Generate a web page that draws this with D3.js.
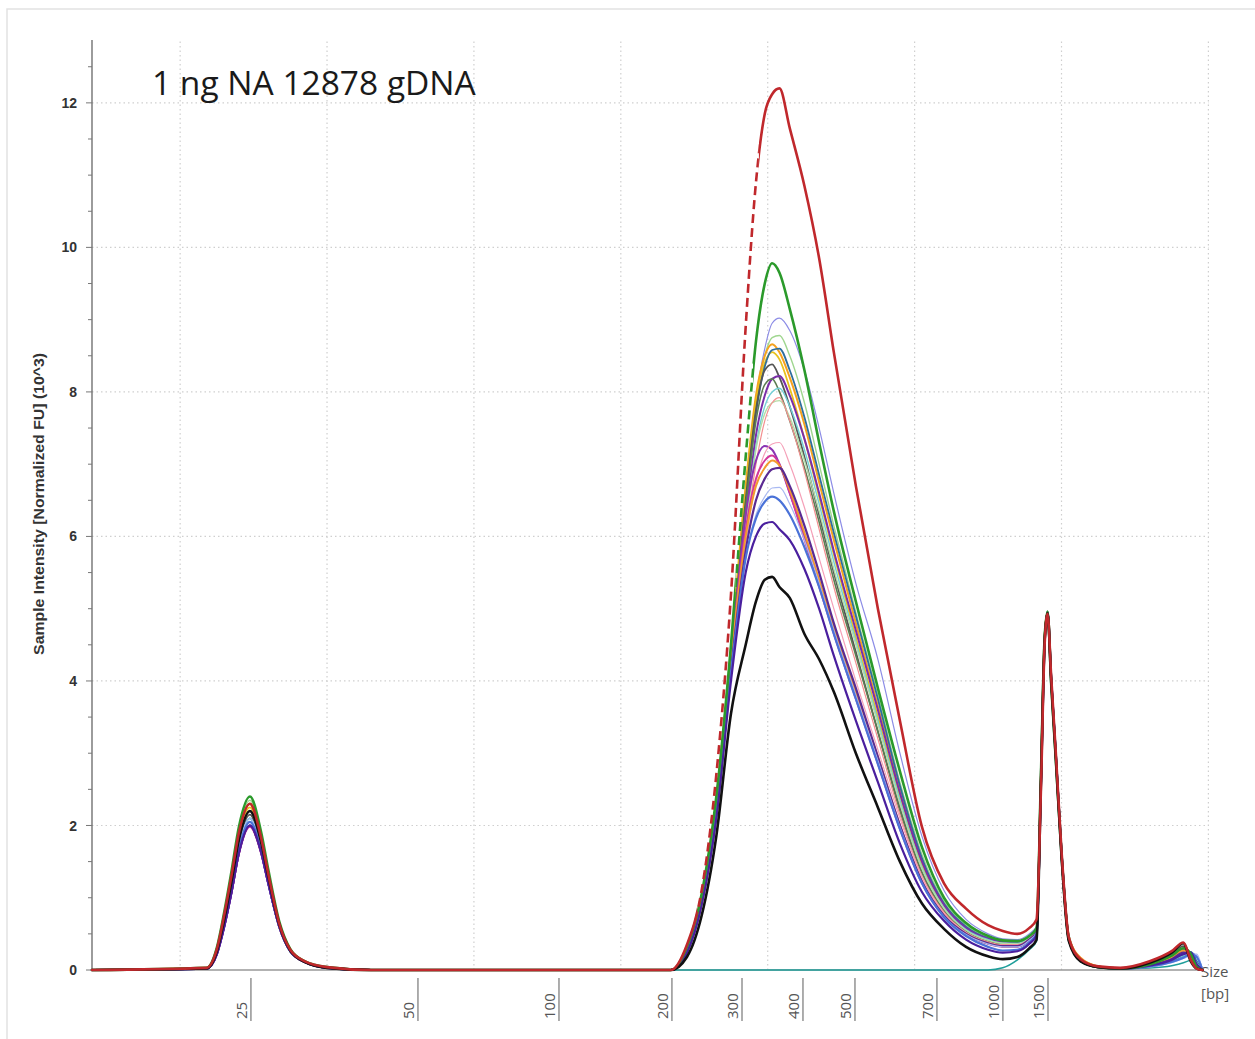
<!DOCTYPE html>
<html>
<head>
<meta charset="utf-8">
<script src="https://cdn.jsdelivr.net/npm/d3@7"></script>
<style>
  body { margin: 0; background: #fff; }
  svg { display: block; font-family: Arial, "Liberation Sans", sans-serif; }
</style>
</head>
<body>
<svg id="chart" width="1255" height="1039"></svg>
<script>
/* Electropherogram overlay: 1 ng NA 12878 gDNA
   x = migration position (run units), labelled with ladder sizes in bp
   y = sample intensity, normalized FU (x10^3) */

const title = "1 ng NA 12878 gDNA";

// shared sample positions along the run
const runTime = [4.0, 11.8, 12.5, 13.0, 13.5, 14.0, 14.75, 15.5, 16.0, 16.75, 17.5, 18.5, 20.0, 23.0,
  43.4, 44.5, 45.5, 46.5, 47.5, 48.5, 49.2, 49.8, 50.3, 50.8, 51.5, 52.5, 53.5, 54.5, 56.0, 57.5,
  59.0, 60.5, 62.0, 63.5, 65.0, 66.0, 67.0, 67.8, 68.3,
  68.6, 68.85, 69.05, 69.3, 69.6, 70.0, 70.5, 71.3, 72.5, 74.0, 76.0, 77.5, 78.3, 78.8, 79.2, 79.6];

// ladder sizes and where they sit on the run
const ladderBp   = [25, 50, 100, 200, 300, 400, 500, 700, 1000, 1500];
const ladderTime = [14.82, 26.19, 35.79, 43.48, 48.25, 52.40, 55.94, 61.52, 66.01, 69.08];

const yTicks = [0, 2, 4, 6, 8, 10, 12];

// lower marker region (first 14 samples), one row per trace
const lowerMarkerFU = [
  [0, 0.02, 0.25, 0.67, 1.18, 1.72, 2.1, 1.68, 1.22, 0.59, 0.25, 0.11, 0.03, 0],   // teal
  [0, 0.02, 0.25, 0.67, 1.18, 1.72, 2.1, 1.68, 1.22, 0.59, 0.25, 0.11, 0.03, 0],   // lavender
  [0, 0.03, 0.3, 0.78, 1.34, 1.93, 2.35, 1.88, 1.36, 0.66, 0.28, 0.12, 0.04, 0],  // light green
  [0, 0.02, 0.28, 0.74, 1.29, 1.89, 2.3, 1.86, 1.36, 0.66, 0.29, 0.12, 0.03, 0],  // orange
  [0, 0.02, 0.27, 0.72, 1.26, 1.85, 2.25, 1.8, 1.3, 0.63, 0.27, 0.11, 0.03, 0],   // yellow
  [0, 0.02, 0.26, 0.7, 1.23, 1.8, 2.2, 1.76, 1.28, 0.62, 0.26, 0.11, 0.03, 0],    // teal blue
  [0, 0.02, 0.26, 0.69, 1.2, 1.76, 2.15, 1.72, 1.25, 0.6, 0.26, 0.11, 0.03, 0],   // gray
  [0, 0.02, 0.22, 0.6, 1.08, 1.62, 2.0, 1.64, 1.2, 0.6, 0.26, 0.11, 0.03, 0],     // purple
  [0, 0.03, 0.3, 0.76, 1.32, 1.9, 2.3, 1.84, 1.33, 0.64, 0.28, 0.12, 0.03, 0],    // dark green
  [0, 0.02, 0.25, 0.67, 1.18, 1.72, 2.1, 1.68, 1.22, 0.59, 0.25, 0.11, 0.03, 0],  // cyan
  [0, 0.02, 0.26, 0.7, 1.23, 1.8, 2.2, 1.76, 1.28, 0.62, 0.26, 0.11, 0.03, 0],    // light green 2
  [0, 0.02, 0.25, 0.66, 1.15, 1.68, 2.05, 1.64, 1.19, 0.57, 0.25, 0.1, 0.03, 0],  // salmon
  [0, 0.02, 0.22, 0.6, 1.08, 1.62, 2.0, 1.64, 1.2, 0.6, 0.26, 0.11, 0.03, 0],     // purple 2
  [0, 0.02, 0.25, 0.66, 1.15, 1.68, 2.05, 1.64, 1.19, 0.57, 0.25, 0.1, 0.03, 0],  // pink
  [0, 0.02, 0.22, 0.6, 1.07, 1.6, 1.98, 1.62, 1.19, 0.6, 0.26, 0.11, 0.03, 0],    // magenta
  [0, 0.03, 0.3, 0.76, 1.31, 1.9, 2.3, 1.84, 1.33, 0.64, 0.28, 0.12, 0.03, 0],    // orange 2
  [0, 0.02, 0.22, 0.6, 1.08, 1.62, 2.0, 1.64, 1.2, 0.6, 0.26, 0.11, 0.03, 0],     // dark purple
  [0, 0.02, 0.25, 0.67, 1.18, 1.72, 2.1, 1.68, 1.22, 0.59, 0.25, 0.11, 0.03, 0],  // light blue
  [0, 0.02, 0.24, 0.64, 1.13, 1.66, 2.05, 1.66, 1.21, 0.6, 0.26, 0.11, 0.03, 0],  // blue
  [0, 0.02, 0.22, 0.6, 1.08, 1.62, 2.0, 1.64, 1.2, 0.6, 0.26, 0.11, 0.03, 0],     // indigo
  [0, 0.03, 0.31, 0.8, 1.37, 1.98, 2.4, 1.92, 1.39, 0.67, 0.29, 0.12, 0.04, 0],   // green
  [0, 0.02, 0.26, 0.7, 1.23, 1.8, 2.2, 1.78, 1.3, 0.63, 0.27, 0.11, 0.03, 0],     // black
  [0, 0.03, 0.29, 0.76, 1.31, 1.9, 2.3, 1.84, 1.33, 0.64, 0.28, 0.12, 0.04, 0]    // red
];

// library region (next 25 samples)
const libraryFU = [
  [0, 0, 0, 0, 0, 0, 0, 0, 0, 0, 0, 0, 0, 0, 0, 0, 0, 0, 0, 0, 0, 0.03, 0.14, 0.28, 0.4],
  [0, 0.28, 1.0, 2.3, 4.4, 6.6, 7.9, 8.6, 8.95, 9.02, 8.85, 8.3, 7.5, 6.6, 5.35, 4.3, 3.0, 1.85, 1.1, 0.7, 0.5, 0.43, 0.42, 0.5, 0.6],
  [0, 0.28, 1.0, 2.3, 4.4, 6.6, 7.85, 8.5, 8.75, 8.78, 8.5, 7.85, 7.0, 6.15, 4.95, 3.8, 2.6, 1.6, 0.95, 0.62, 0.45, 0.4, 0.39, 0.46, 0.57],
  [0, 0.3, 1.02, 2.35, 4.45, 6.7, 7.95, 8.5, 8.66, 8.55, 8.2, 7.55, 6.75, 5.95, 4.8, 3.65, 2.5, 1.5, 0.9, 0.58, 0.43, 0.38, 0.37, 0.45, 0.56],
  [0, 0.3, 1.0, 2.3, 4.4, 6.6, 7.85, 8.4, 8.55, 8.45, 8.05, 7.35, 6.55, 5.75, 4.6, 3.5, 2.4, 1.45, 0.88, 0.57, 0.42, 0.37, 0.36, 0.44, 0.55],
  [0, 0.27, 0.98, 2.25, 4.3, 6.4, 7.7, 8.35, 8.58, 8.6, 8.3, 7.65, 6.85, 6.05, 4.9, 3.75, 2.55, 1.55, 0.92, 0.6, 0.44, 0.39, 0.38, 0.46, 0.57],
  [0, 0.27, 0.98, 2.25, 4.3, 6.5, 7.75, 8.3, 8.38, 8.2, 7.8, 7.1, 6.3, 5.5, 4.4, 3.3, 2.25, 1.35, 0.82, 0.53, 0.4, 0.35, 0.35, 0.43, 0.54],
  [0, 0.26, 0.95, 2.2, 4.2, 6.2, 7.4, 7.95, 8.18, 8.22, 7.95, 7.35, 6.6, 5.8, 4.7, 3.6, 2.45, 1.5, 0.9, 0.58, 0.43, 0.38, 0.37, 0.45, 0.56],
  [0, 0.27, 0.97, 2.25, 4.3, 6.4, 7.6, 8.1, 8.18, 8.0, 7.6, 6.95, 6.2, 5.4, 4.35, 3.3, 2.2, 1.35, 0.82, 0.54, 0.4, 0.36, 0.36, 0.44, 0.55],
  [0, 0.26, 0.95, 2.2, 4.2, 6.1, 7.25, 7.8, 8.0, 8.05, 7.8, 7.2, 6.45, 5.65, 4.55, 3.45, 2.35, 1.42, 0.86, 0.56, 0.42, 0.37, 0.37, 0.45, 0.56],
  [0, 0.26, 0.95, 2.2, 4.2, 6.1, 7.2, 7.7, 7.85, 7.88, 7.65, 7.05, 6.35, 5.55, 4.5, 3.4, 2.3, 1.4, 0.85, 0.55, 0.41, 0.37, 0.36, 0.44, 0.55],
  [0, 0.27, 0.97, 2.25, 4.25, 6.0, 7.0, 7.6, 7.85, 7.92, 7.6, 6.9, 6.1, 5.3, 4.25, 3.2, 2.15, 1.3, 0.8, 0.52, 0.39, 0.35, 0.35, 0.43, 0.54],
  [0, 0.27, 0.97, 2.25, 4.3, 6.3, 7.05, 7.25, 7.2, 7.0, 6.6, 6.0, 5.35, 4.7, 3.8, 2.9, 2.0, 1.22, 0.75, 0.5, 0.37, 0.33, 0.33, 0.42, 0.53],
  [0, 0.26, 0.95, 2.2, 4.2, 5.9, 6.75, 7.15, 7.28, 7.3, 7.0, 6.4, 5.7, 5.0, 4.0, 3.05, 2.1, 1.28, 0.78, 0.52, 0.38, 0.34, 0.34, 0.43, 0.54],
  [0, 0.3, 1.02, 2.3, 4.35, 6.1, 6.8, 7.05, 7.12, 7.0, 6.6, 5.95, 5.3, 4.65, 3.75, 2.85, 1.95, 1.2, 0.74, 0.49, 0.36, 0.32, 0.32, 0.41, 0.52],
  [0, 0.28, 1.0, 2.3, 4.3, 6.0, 6.7, 6.95, 7.05, 6.98, 6.65, 6.05, 5.4, 4.75, 3.85, 2.95, 2.0, 1.22, 0.75, 0.5, 0.37, 0.33, 0.33, 0.42, 0.53],
  [0, 0.25, 0.93, 2.15, 4.15, 5.8, 6.5, 6.8, 6.93, 6.95, 6.7, 6.15, 5.5, 4.8, 3.9, 2.95, 2.0, 1.22, 0.75, 0.5, 0.37, 0.33, 0.33, 0.42, 0.53],
  [0, 0.25, 0.92, 2.15, 4.1, 5.7, 6.3, 6.55, 6.67, 6.68, 6.45, 5.95, 5.35, 4.7, 3.8, 2.9, 1.98, 1.2, 0.74, 0.49, 0.36, 0.32, 0.32, 0.41, 0.52],
  [0, 0.25, 0.93, 2.15, 4.1, 5.7, 6.25, 6.48, 6.55, 6.5, 6.3, 5.85, 5.3, 4.65, 3.75, 2.85, 1.95, 1.2, 0.73, 0.47, 0.32, 0.27, 0.28, 0.38, 0.5],
  [0, 0.24, 0.9, 2.1, 4.0, 5.5, 6.0, 6.18, 6.2, 6.1, 5.95, 5.55, 5.0, 4.35, 3.45, 2.6, 1.75, 1.08, 0.68, 0.42, 0.28, 0.24, 0.26, 0.36, 0.48],
  [0, 0.32, 1.05, 2.4, 4.5, 7.1, 8.7, 9.5, 9.78, 9.65, 9.15, 8.3, 7.3, 6.35, 5.1, 3.9, 2.75, 1.7, 1.0, 0.65, 0.47, 0.41, 0.4, 0.47, 0.58],
  [0, 0.18, 0.75, 1.85, 3.55, 4.5, 5.1, 5.4, 5.44, 5.3, 5.15, 4.65, 4.3, 3.85, 3.0, 2.25, 1.5, 0.92, 0.57, 0.32, 0.19, 0.15, 0.18, 0.3, 0.42],
  [0, 0.35, 1.1, 2.7, 5.2, 8.9, 10.9, 11.85, 12.12, 12.2, 11.65, 10.85, 9.85, 8.55, 6.7, 5.0, 3.45, 1.98, 1.2, 0.85, 0.62, 0.54, 0.5, 0.58, 0.7]
];

// upper marker and run end (last 16 samples)
const upperMarkerFU = [
  [2.4, 4.45, 4.9, 4.05, 3.1, 1.7, 0.48, 0.15, 0.04, 0.02, 0.03, 0.06, 0.1, 0.14, 0.18, 0],
  [2.55, 4.5, 4.94, 4.05, 3.05, 1.65, 0.44, 0.14, 0.04, 0.02, 0.05, 0.12, 0.18, 0.24, 0.2, 0],
  [2.6, 4.55, 4.95, 4.0, 3.0, 1.6, 0.42, 0.13, 0.04, 0.02, 0.07, 0.17, 0.27, 0.2, 0.03, 0],
  [2.65, 4.6, 4.95, 4.0, 3.0, 1.62, 0.46, 0.16, 0.05, 0.02, 0.07, 0.18, 0.28, 0.18, 0.03, 0],
  [2.6, 4.55, 4.94, 4.02, 3.02, 1.62, 0.44, 0.14, 0.04, 0.02, 0.06, 0.16, 0.25, 0.21, 0.04, 0],
  [2.55, 4.5, 4.95, 4.05, 3.05, 1.65, 0.43, 0.13, 0.04, 0.02, 0.05, 0.12, 0.2, 0.25, 0.12, 0],
  [2.6, 4.55, 4.95, 4.0, 3.0, 1.6, 0.42, 0.13, 0.04, 0.02, 0.09, 0.22, 0.33, 0.16, 0.02, 0],
  [2.6, 4.55, 4.96, 4.0, 3.0, 1.6, 0.42, 0.13, 0.04, 0.02, 0.06, 0.15, 0.24, 0.22, 0.06, 0],
  [2.65, 4.6, 4.95, 3.98, 2.98, 1.58, 0.4, 0.12, 0.04, 0.02, 0.07, 0.18, 0.28, 0.2, 0.03, 0],
  [2.55, 4.5, 4.93, 4.05, 3.05, 1.66, 0.45, 0.14, 0.04, 0.02, 0.05, 0.13, 0.2, 0.23, 0.1, 0],
  [2.6, 4.55, 4.94, 4.0, 3.0, 1.62, 0.43, 0.13, 0.04, 0.02, 0.06, 0.15, 0.23, 0.19, 0.04, 0],
  [2.6, 4.55, 4.95, 4.02, 3.02, 1.63, 0.44, 0.14, 0.04, 0.02, 0.07, 0.17, 0.26, 0.2, 0.03, 0],
  [2.6, 4.55, 4.95, 4.0, 3.0, 1.6, 0.42, 0.13, 0.04, 0.02, 0.07, 0.18, 0.28, 0.2, 0.03, 0],
  [2.55, 4.5, 4.94, 4.04, 3.04, 1.64, 0.44, 0.14, 0.04, 0.02, 0.06, 0.15, 0.23, 0.2, 0.05, 0],
  [2.6, 4.55, 4.95, 4.0, 3.0, 1.6, 0.42, 0.13, 0.04, 0.02, 0.08, 0.2, 0.3, 0.17, 0.03, 0],
  [2.7, 4.6, 4.95, 4.0, 3.0, 1.62, 0.46, 0.17, 0.05, 0.02, 0.07, 0.18, 0.27, 0.2, 0.03, 0],
  [2.55, 4.5, 4.95, 4.03, 3.03, 1.63, 0.43, 0.13, 0.04, 0.02, 0.06, 0.15, 0.24, 0.22, 0.06, 0],
  [2.5, 4.45, 4.93, 4.05, 3.05, 1.66, 0.45, 0.14, 0.04, 0.02, 0.04, 0.1, 0.16, 0.2, 0.22, 0],
  [2.55, 4.5, 4.95, 4.04, 3.04, 1.64, 0.44, 0.14, 0.04, 0.02, 0.05, 0.11, 0.17, 0.22, 0.18, 0],
  [2.6, 4.55, 4.95, 4.0, 3.0, 1.6, 0.42, 0.13, 0.04, 0.02, 0.06, 0.14, 0.22, 0.24, 0.08, 0],
  [2.7, 4.6, 4.96, 3.95, 2.95, 1.6, 0.42, 0.13, 0.04, 0.02, 0.08, 0.2, 0.3, 0.22, 0.04, 0],
  [2.6, 4.55, 4.94, 3.98, 2.98, 1.58, 0.4, 0.12, 0.04, 0.02, 0.1, 0.24, 0.37, 0.12, 0.02, 0],
  [2.5, 4.5, 4.93, 4.05, 3.05, 1.65, 0.45, 0.15, 0.05, 0.03, 0.12, 0.26, 0.38, 0.14, 0.02, 0]
];

// trace styles, same order as the rows above
const traceColors = ["#1f9e9a", "#8c8ce6", "#9fd68f", "#f5a21e", "#e8c21c", "#2d6e9c", "#555555",
  "#7a2ea8", "#5c7d52", "#72d0d6", "#b3dca6", "#f39090", "#8b34b3", "#f5a0b8", "#d2379a",
  "#f29a2e", "#5b2a92", "#a9b9f2", "#4a72d8", "#4a1f9e", "#2b9a2b", "#111111", "#c0282c"];
const traceWidths = [1.6, 1.2, 1.4, 2, 1.8, 1.8, 1.8, 2, 1.6, 1.4, 1.4, 1.2, 2, 1.2, 1.8,
  2, 2.2, 1.2, 2.2, 2.2, 2.6, 2.6, 2.6];
// steep rising edges that show up dashed in the reference [traceIndex, fromRun, toRun]
const dashedBands = [[20, 47.8, 49.0], [22, 45.2, 49.4]];

/* ---------- layout ---------- */
const svg = d3.select("#chart");
const x = d3.scaleLinear().domain([4, 80]).range([92, 1208.4]);
const y = d3.scaleLinear().domain([0, 12.87]).range([970, 40]);
const yTop = 12.87;

// faint panel frame
svg.append("path")
  .attr("d", "M7,1039V9H1255")
  .attr("fill", "none")
  .attr("stroke", "#e2e2e2")
  .attr("stroke-width", 1.5);

/* ---------- dotted grid ---------- */
const gridG = svg.append("g")
  .attr("stroke", "#cfcfcf")
  .attr("stroke-width", 1.2)
  .attr("stroke-dasharray", "1.5,3");
gridG.selectAll("line.v").data(d3.range(10, 81, 10)).join("line")
  .attr("class", "v")
  .attr("x1", d => x(d)).attr("x2", d => x(d))
  .attr("y1", y(0)).attr("y2", y(yTop));
gridG.selectAll("line.h").data(yTicks.slice(1)).join("line")
  .attr("class", "h")
  .attr("x1", x(4)).attr("x2", x(80))
  .attr("y1", d => y(d)).attr("y2", d => y(d));

/* ---------- y axis ---------- */
const yAxisG = svg.append("g").attr("transform", `translate(${x(4)},0)`);
yAxisG.append("line")
  .attr("y1", y(0)).attr("y2", y(yTop))
  .attr("stroke", "#666").attr("stroke-width", 1.3);
yAxisG.selectAll("line.minor").data(d3.range(0, 12.51, 0.5)).join("line")
  .attr("class", "minor")
  .attr("x1", d => (d % 2 === 0 ? -6 : -4)).attr("x2", 0)
  .attr("y1", d => y(d)).attr("y2", d => y(d))
  .attr("stroke", "#777").attr("stroke-width", 1);
yAxisG.selectAll("text").data(yTicks).join("text")
  .attr("x", -15)
  .attr("y", d => y(d))
  .attr("dy", "0.36em")
  .attr("text-anchor", "end")
  .attr("font-size", 14)
  .attr("font-weight", "bold")
  .attr("fill", "#333")
  .text(d => d);

svg.append("text")
  .attr("transform", `translate(44,${y(6.45)}) rotate(-90)`)
  .attr("text-anchor", "middle")
  .attr("font-size", 14)
  .attr("font-weight", "bold")
  .attr("fill", "#333")
  .attr("textLength", 302)
  .attr("lengthAdjust", "spacingAndGlyphs")
  .text("Sample Intensity [Normalized FU] (10^3)");

/* ---------- x axis (ladder) ---------- */
svg.append("line")
  .attr("x1", x(4)).attr("x2", x(79.6))
  .attr("y1", y(0)).attr("y2", y(0))
  .attr("stroke", "#999").attr("stroke-width", 1.5);

const ladderG = svg.append("g");
ladderG.selectAll("line").data(ladderTime).join("line")
  .attr("x1", d => x(d)).attr("x2", d => x(d))
  .attr("y1", 978).attr("y2", 1021)
  .attr("stroke", "#777").attr("stroke-width", 1.2);
ladderG.selectAll("text").data(ladderBp).join("text")
  .attr("transform", (d, i) => `translate(${x(ladderTime[i]) - 4},1019) rotate(-90)`)
  .attr("text-anchor", "start")
  .attr("font-family", "'Open Sans', 'Noto Sans', sans-serif")
  .attr("font-size", 15)
  .attr("fill", "#555")
  .text(d => d);

svg.append("text")
  .attr("x", 1201).attr("y", 977)
  .attr("font-family", "'Open Sans', 'Noto Sans', sans-serif")
  .attr("font-size", 15).attr("fill", "#555")
  .text("Size");
svg.append("text")
  .attr("x", 1201).attr("y", 999)
  .attr("font-family", "'Open Sans', 'Noto Sans', sans-serif")
  .attr("font-size", 15).attr("fill", "#555")
  .text("[bp]");

/* ---------- traces ---------- */
const traces = lowerMarkerFU.map((low, i) => low.concat(libraryFU[i], upperMarkerFU[i]));

const line = d3.line()
  .x((d, i) => x(runTime[i]))
  .y(d => y(d))
  .curve(d3.curveMonotoneX);

const defs = svg.append("defs");
dashedBands.forEach(([ti, a, b]) => {
  const solid = defs.append("clipPath").attr("id", `solid${ti}`);
  solid.append("rect").attr("x", 0).attr("y", 0).attr("width", x(a)).attr("height", 1039);
  solid.append("rect").attr("x", x(b)).attr("y", 0).attr("width", 1255 - x(b)).attr("height", 1039);
  defs.append("clipPath").attr("id", `dash${ti}`)
    .append("rect").attr("x", x(a)).attr("y", 0).attr("width", x(b) - x(a)).attr("height", 1039);
});

const traceG = svg.append("g")
  .attr("fill", "none")
  .attr("stroke-linejoin", "round")
  .attr("stroke-linecap", "round");

traces.forEach((vals, i) => {
  const band = dashedBands.find(b => b[0] === i);
  const p = traceG.append("path")
    .attr("d", line(vals))
    .attr("stroke", traceColors[i])
    .attr("stroke-width", traceWidths[i]);
  if (band) {
    p.attr("clip-path", `url(#solid${i})`);
    traceG.append("path")
      .attr("d", line(vals))
      .attr("stroke", traceColors[i])
      .attr("stroke-width", traceWidths[i])
      .attr("stroke-linecap", "butt")
      .attr("stroke-dasharray", "9,5")
      .attr("clip-path", `url(#dash${i})`);
  }
});

/* ---------- title ---------- */
svg.append("text")
  .attr("x", 152).attr("y", 95)
  .attr("font-family", "'Open Sans', 'Noto Sans', sans-serif")
  .attr("font-size", 33.5)
  .attr("fill", "#1a1a1a")
  .text(title);
</script>
</body>
</html>
